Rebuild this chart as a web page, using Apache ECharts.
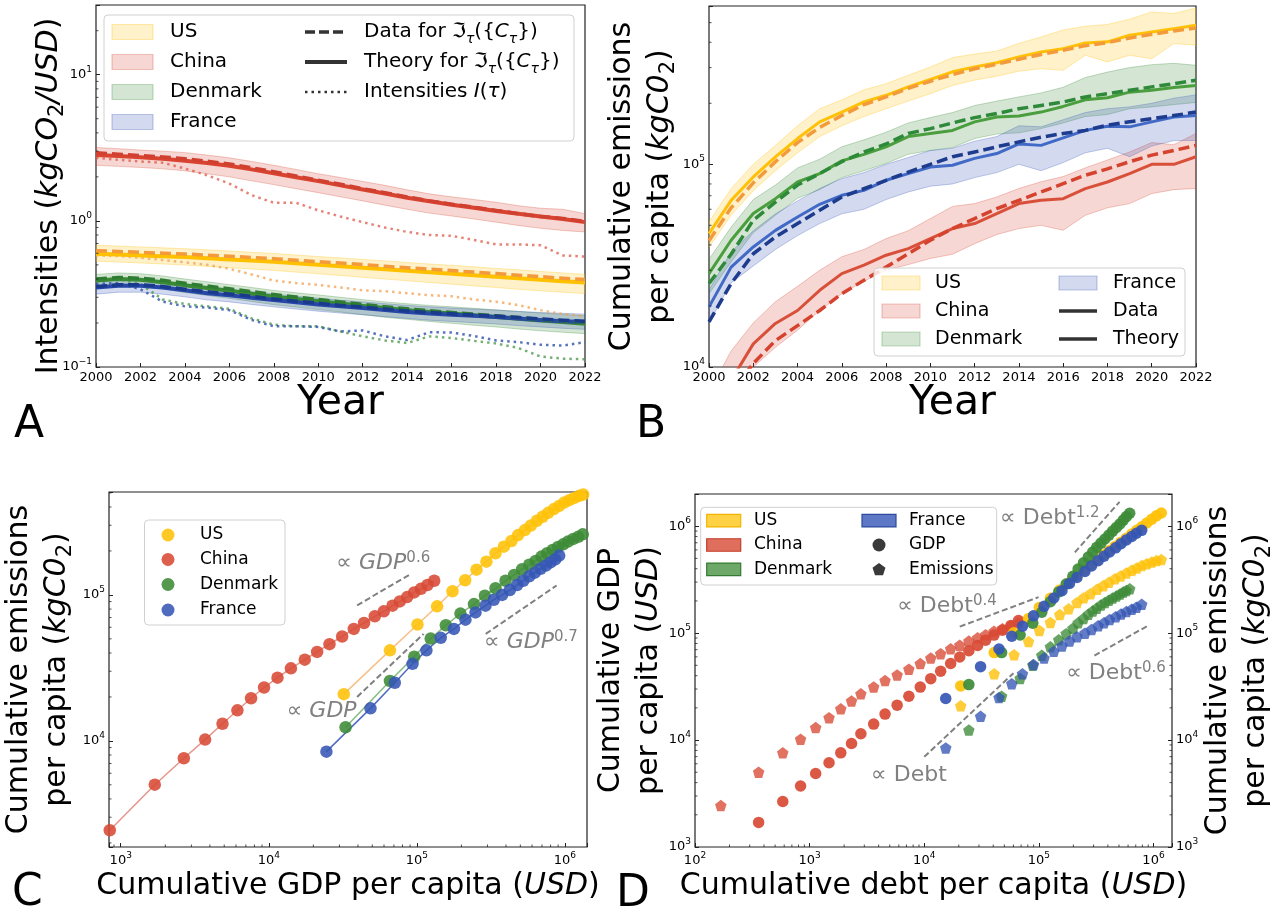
<!DOCTYPE html>
<html>
<head>
<meta charset="utf-8">
<title>Intensities, cumulative emissions, GDP and debt per capita</title>
<script src="https://cdn.jsdelivr.net/npm/echarts@6/dist/echarts.min.js"></script>
<style>
html, body { margin: 0; padding: 0; background: #fff; }
#chart { width: 1277px; height: 918px; }
</style>
</head>
<body>
<div id="chart"></div>
<script>
const FONT = 'DejaVu Sans';

const years = [2000, 2001, 2002, 2003, 2004, 2005, 2006, 2007, 2008, 2009, 2010, 2011, 2012, 2013, 2014, 2015, 2016, 2017, 2018, 2019, 2020, 2021, 2022];

// ---------- Panel A: intensities (kgCO2 / USD)
const aUSTheory    = [0.595, 0.588, 0.580, 0.572, 0.565, 0.555, 0.545, 0.535, 0.525, 0.512, 0.500, 0.490, 0.478, 0.466, 0.455, 0.445, 0.435, 0.425, 0.415, 0.405, 0.395, 0.386, 0.378];
const aUSData      = [0.625, 0.617, 0.609, 0.601, 0.593, 0.583, 0.572, 0.562, 0.551, 0.538, 0.525, 0.514, 0.502, 0.489, 0.478, 0.467, 0.457, 0.446, 0.436, 0.425, 0.415, 0.405, 0.397];
const aUSUpper     = [0.680, 0.672, 0.663, 0.654, 0.645, 0.634, 0.622, 0.610, 0.598, 0.584, 0.570, 0.558, 0.545, 0.532, 0.519, 0.507, 0.496, 0.485, 0.473, 0.462, 0.451, 0.440, 0.430];
const aUSLower     = [0.530, 0.523, 0.515, 0.507, 0.498, 0.488, 0.478, 0.468, 0.458, 0.446, 0.434, 0.423, 0.411, 0.400, 0.389, 0.379, 0.369, 0.359, 0.350, 0.340, 0.332, 0.325, 0.318];
const aUSIntensity = [0.580, 0.575, 0.560, 0.540, 0.520, 0.500, 0.470, 0.430, 0.390, 0.375, 0.365, 0.350, 0.335, 0.330, 0.320, 0.310, 0.305, 0.290, 0.280, 0.265, 0.245, 0.230, 0.222];

const aChinaTheory    = [2.82, 2.78, 2.72, 2.66, 2.58, 2.49, 2.38, 2.25, 2.12, 1.99, 1.87, 1.75, 1.64, 1.54, 1.44, 1.36, 1.29, 1.23, 1.17, 1.12, 1.07, 1.03, 0.98];
const aChinaData      = [2.92, 2.86, 2.80, 2.74, 2.66, 2.56, 2.45, 2.31, 2.17, 2.03, 1.90, 1.78, 1.66, 1.56, 1.46, 1.37, 1.30, 1.24, 1.18, 1.12, 1.07, 1.04, 0.99];
const aChinaUpper     = [3.18, 3.12, 3.05, 3.00, 2.93, 2.82, 2.70, 2.55, 2.40, 2.25, 2.10, 1.98, 1.86, 1.75, 1.63, 1.53, 1.46, 1.40, 1.34, 1.27, 1.22, 1.20, 1.12];
const aChinaLower     = [2.40, 2.36, 2.32, 2.27, 2.20, 2.10, 2.00, 1.88, 1.77, 1.66, 1.56, 1.46, 1.37, 1.28, 1.20, 1.13, 1.08, 1.03, 0.98, 0.93, 0.89, 0.86, 0.84];
const aChinaIntensity = [2.70, 2.62, 2.55, 2.50, 2.28, 2.05, 1.80, 1.50, 1.33, 1.33, 1.18, 1.07, 0.98, 0.90, 0.84, 0.80, 0.79, 0.74, 0.69, 0.69, 0.68, 0.58, 0.57];

const aDenmarkTheory    = [0.390, 0.400, 0.395, 0.380, 0.362, 0.347, 0.332, 0.317, 0.303, 0.292, 0.282, 0.272, 0.262, 0.253, 0.245, 0.238, 0.232, 0.226, 0.220, 0.214, 0.208, 0.203, 0.198];
const aDenmarkData      = [0.400, 0.410, 0.405, 0.392, 0.374, 0.358, 0.343, 0.328, 0.313, 0.301, 0.290, 0.279, 0.268, 0.258, 0.250, 0.243, 0.236, 0.230, 0.224, 0.218, 0.212, 0.207, 0.203];
const aDenmarkUpper     = [0.430, 0.440, 0.435, 0.420, 0.400, 0.383, 0.366, 0.350, 0.334, 0.322, 0.311, 0.300, 0.289, 0.279, 0.271, 0.264, 0.258, 0.252, 0.246, 0.240, 0.234, 0.229, 0.224];
const aDenmarkLower     = [0.350, 0.360, 0.355, 0.342, 0.323, 0.309, 0.295, 0.281, 0.267, 0.257, 0.247, 0.238, 0.228, 0.219, 0.212, 0.205, 0.199, 0.193, 0.188, 0.182, 0.177, 0.173, 0.169];
const aDenmarkIntensity = [0.400, 0.400, 0.370, 0.290, 0.270, 0.260, 0.250, 0.215, 0.195, 0.190, 0.190, 0.175, 0.162, 0.152, 0.146, 0.162, 0.158, 0.151, 0.145, 0.135, 0.118, 0.114, 0.113];

const aFranceTheory    = [0.350, 0.360, 0.360, 0.350, 0.335, 0.320, 0.310, 0.298, 0.287, 0.277, 0.268, 0.260, 0.253, 0.245, 0.238, 0.232, 0.228, 0.224, 0.220, 0.215, 0.210, 0.206, 0.203];
const aFranceData      = [0.355, 0.365, 0.366, 0.356, 0.341, 0.327, 0.316, 0.304, 0.292, 0.282, 0.273, 0.264, 0.257, 0.249, 0.242, 0.236, 0.231, 0.227, 0.223, 0.218, 0.213, 0.209, 0.206];
const aFranceUpper     = [0.385, 0.395, 0.395, 0.385, 0.368, 0.352, 0.341, 0.328, 0.316, 0.305, 0.295, 0.286, 0.279, 0.271, 0.264, 0.258, 0.253, 0.249, 0.245, 0.240, 0.236, 0.233, 0.230];
const aFranceLower     = [0.315, 0.325, 0.325, 0.315, 0.302, 0.288, 0.279, 0.268, 0.258, 0.249, 0.241, 0.234, 0.228, 0.221, 0.215, 0.209, 0.205, 0.201, 0.197, 0.192, 0.188, 0.184, 0.181];
const aFranceIntensity = [0.370, 0.375, 0.340, 0.280, 0.260, 0.255, 0.245, 0.210, 0.190, 0.190, 0.188, 0.175, 0.178, 0.162, 0.153, 0.173, 0.172, 0.163, 0.152, 0.148, 0.142, 0.140, 0.148];

// ---------- Panel B: cumulative emissions per capita (kgCO2)
const bUSData     = [45500, 66400, 86600, 108700, 134000, 162000, 181000, 203000, 219000, 241000, 262000, 286000, 302000, 317000, 339000, 358000, 372000, 397000, 402000, 433000, 450000, 467000, 485000];
const bUSTheory   = [42000, 61000, 81000, 103000, 128000, 152000, 174000, 197000, 215000, 237000, 257000, 277000, 296000, 312000, 330000, 348000, 365000, 385000, 398000, 420000, 438000, 455000, 470000];
const bUSUpper    = [52000, 76000, 100000, 124000, 155000, 188000, 208000, 233000, 250000, 275000, 302000, 336000, 350000, 362000, 395000, 425000, 460000, 480000, 490000, 520000, 565000, 555000, 590000];
const bUSLower    = [39000, 56000, 74000, 93000, 114000, 137000, 155000, 172000, 188000, 205000, 223000, 245000, 260000, 272000, 288000, 296000, 291000, 345000, 320000, 345000, 332000, 394000, 387000];

const bChinaData   = [5500, 8600, 13000, 16400, 19000, 23900, 28900, 31800, 35600, 38400, 43000, 48200, 51000, 57100, 64000, 66400, 67700, 75900, 81800, 90000, 100000, 100000, 109000];
const bChinaTheory = [5000, 7500, 10400, 13500, 16000, 19000, 23000, 26800, 31100, 36200, 42200, 48200, 54000, 60400, 66400, 73000, 80300, 88300, 95000, 103000, 111000, 117000, 124000];
const bChinaUpper  = [7500, 12000, 16500, 21000, 25000, 30000, 35000, 38000, 43000, 47000, 54000, 62000, 64000, 69000, 76000, 82000, 87000, 96000, 105000, 115000, 128000, 125000, 142000];
const bChinaLower  = [4000, 6500, 10000, 12500, 15200, 19000, 23000, 26500, 30000, 32000, 34300, 36000, 40600, 45000, 48200, 50000, 47300, 56000, 61000, 64000, 71700, 75000, 76000];

const bDenmarkData   = [28900, 42200, 57200, 67700, 81800, 90000, 104000, 112000, 122000, 137000, 142000, 147000, 162000, 171000, 173000, 181000, 193000, 208000, 213000, 227000, 232000, 239000, 245000];
const bDenmarkTheory = [25800, 36000, 53000, 65000, 79000, 90000, 103000, 115000, 126000, 142000, 150000, 160000, 170000, 178000, 188000, 195000, 203000, 215000, 223000, 232000, 241000, 250000, 260000];
const bDenmarkUpper  = [34000, 49000, 67000, 79000, 96000, 106000, 122000, 132000, 144000, 160000, 170000, 180000, 195000, 205000, 215000, 225000, 240000, 268000, 285000, 300000, 310000, 315000, 308000];
const bDenmarkLower  = [23000, 33000, 46000, 56000, 68000, 75000, 86000, 93000, 101000, 112000, 117000, 121000, 134000, 141000, 143000, 150000, 160000, 172000, 176000, 188000, 192000, 197000, 202000];

const bFranceData   = [19800, 31100, 39100, 47200, 55000, 63500, 70300, 74400, 83400, 90000, 97000, 99000, 107000, 113000, 126000, 124000, 135000, 147000, 154000, 153000, 162000, 171000, 174000];
const bFranceTheory = [16700, 25800, 36200, 43800, 51000, 59300, 69000, 75800, 83400, 91600, 100000, 109000, 115000, 122000, 129000, 136000, 142000, 147000, 156000, 162000, 168000, 174000, 181000];
const bFranceUpper  = [24000, 37000, 47000, 57000, 66000, 76000, 85000, 91000, 100000, 108000, 117000, 120000, 130000, 137000, 155000, 153000, 166000, 180000, 188000, 192000, 200000, 212000, 220000];
const bFranceLower  = [16500, 26000, 31500, 38000, 44500, 51000, 57000, 60000, 67000, 73000, 78000, 80000, 86000, 91000, 100000, 93000, 102000, 114000, 120000, 109000, 123000, 131000, 131000];

// ---------- Panel C: cumulative GDP (USD) vs cumulative emissions (kgCO2), per capita
const cUSGdp = [32100, 65800, 101000, 137000, 174000, 212000, 253000, 295000, 340000, 387000, 436000, 483000, 537000, 589000, 647000, 707000, 771000, 843000, 915000, 989000, 1070000, 1160000, 1250000, 1330000];
const cUSEmi = [20900, 41700, 62700, 83500, 106000, 126000, 149000, 169000, 193000, 214000, 234000, 257000, 278000, 299000, 322000, 343000, 365000, 387000, 407000, 429000, 446000, 462000, 477000, 487000];

const cChinaGdp = [843, 1698, 2667, 3715, 4866, 6137, 7590, 9290, 11450, 14100, 17500, 21200, 25700, 31300, 37500, 44000, 52000, 59800, 68500, 76700, 86000, 95900, 106500, 118000, 131000];
const cChinaEmi = [2443, 5010, 7600, 10200, 13100, 16200, 19600, 23200, 27100, 31400, 36000, 40700, 46000, 51900, 58500, 64200, 71400, 77200, 84400, 90300, 96600, 104000, 110000, 117000, 125000];

const cDenmarkGdp = [33000, 65800, 96000, 124000, 157000, 197000, 243000, 288000, 340000, 397000, 454000, 514000, 574000, 634000, 695000, 759000, 826000, 900000, 974000, 1050000, 1140000, 1230000, 1320000];
const cDenmarkEmi = [12400, 25700, 37700, 50200, 62000, 74500, 86500, 98800, 111000, 125000, 137000, 150000, 161000, 171000, 183000, 193000, 203000, 213000, 222000, 232000, 242000, 250000, 260000];

const cFranceGdp = [24500, 48600, 71000, 93500, 116000, 145000, 178000, 213000, 249000, 291000, 331000, 377000, 425000, 476000, 523000, 574000, 627000, 685000, 744000, 800000, 860000, 915000];
const cFranceEmi = [8440, 16700, 25000, 33700, 41700, 50800, 58500, 67700, 75900, 84400, 92700, 100000, 108000, 117000, 125000, 134000, 142000, 151000, 159000, 167000, 175000, 186000];

// ---------- Panel D: cumulative debt per capita (USD), paired with the GDP / emissions above
const dUSDebt      = [20800, 40800, 60800, 81300, 101000, 126000, 152000, 182000, 215000, 246000, 282000, 322000, 364000, 408000, 461000, 517000, 579000, 646000, 714000, 789000, 873000, 966000, 1060000, 1170000];
const dChinaDebt   = [168, 359, 583, 834, 1129, 1477, 1870, 2320, 2800, 3620, 4550, 5800, 7340, 9230, 11400, 13900, 17000, 20400, 24500, 29200, 34300, 40600, 48100, 57100, 66400];
const dDenmarkDebt = [24500, 47300, 68600, 88500, 106000, 126000, 149000, 173000, 198000, 220000, 245000, 270000, 295000, 320000, 348000, 377000, 408000, 440000, 475000, 510000, 545000, 580000, 620000];
const dFranceDebt  = [15400, 31000, 44900, 58000, 71900, 89800, 111000, 135000, 159000, 185000, 215000, 252000, 288000, 329000, 370000, 414000, 468000, 521000, 580000, 646000, 710000, 789000];

// ---------- Power-law guides [start, end] and their captions (anchor = left edge, text middle)
const cGuideGdp06 = [[39500, 84800], [88500, 137000]];
const cGuideGdp10 = [[39500, 20000], [111000, 54100]];
const cGuideGdp07 = [[292000, 54100], [879000, 116000]];
const dGuideDebt12 = [[206000, 569000], [506000, 1690000]];
const dGuideDebt04 = [[20400, 115000], [99300, 217000]];
const dGuideDebt10 = [[10000, 6970], [60000, 42200]];
const dGuideDebt06 = [[305000, 61700], [903000, 118000]];

const cCaptions = [
  { at: [28600, 165000], text: '\u221D {i|GDP}{p|0.6}' },
  { at: [13200, 15900], text: '\u221D {i|GDP}' },
  { at: [284000, 47200], text: '\u221D {i|GDP}{p|0.7}' }
];
const dCaptions = [
  { at: [45800, 1180000], text: '\u221D Debt{p|1.2}' },
  { at: [5800, 177000], text: '\u221D Debt{p|0.4}' },
  { at: [3430, 4730], text: '\u221D Debt' },
  { at: [173000, 41800], text: '\u221D Debt{p|0.6}' }
];

// ---------- Layout
const GRIDS = [
  { left: 96, top: 5, width: 489, height: 362 },
  { left: 709, top: 6, width: 487, height: 361 },
  { left: 109, top: 492, width: 478, height: 355 },
  { left: 695, top: 494, width: 477, height: 353 }
];
const RANGE = {
  aY: [0.1, 30], bY: [1e4, 6.04e5],
  cX: [833, 1.41e6], cY: [1875, 5.07e5],
  dX: [100, 1.45e6], dY: [1000, 2.0e6]
};

const COLORS = {
  US: '#FFC107', China: '#D84A35', Denmark: '#3D8B37', France: '#3556B5'
};
const BAND = {
  US: ['rgba(255,193,7,0.22)', 'rgba(255,193,7,0.30)'],
  China: ['rgba(216,74,53,0.22)', 'rgba(216,74,53,0.30)'],
  Denmark: ['rgba(61,139,55,0.22)', 'rgba(61,139,55,0.30)'],
  France: ['rgba(53,86,181,0.22)', 'rgba(53,86,181,0.30)']
};

// ---------- Helpers
const pairs = (xs, ys) => xs.map((x, i) => [x, ys[i]]);

function lineSeries(xi, yi, xs, ys, color, width, type, z) {
  return {
    type: 'line', xAxisIndex: xi, yAxisIndex: yi, data: pairs(xs, ys),
    symbol: 'none', showSymbol: false, silent: true, clip: true, z: z, animation: false,
    lineStyle: { color: color, width: width, type: type, cap: 'butt', join: 'round' }
  };
}
function bandSeries(xi, yi, xs, lo, hi, colors) {
  return {
    type: 'custom', xAxisIndex: xi, yAxisIndex: yi, clip: true, silent: true, z: 1, animation: false,
    data: [[xs[0], hi[0]]], encode: { x: 0, y: 1 },
    renderItem: function (params, api) {
      const pts = xs.map((x, i) => api.coord([x, hi[i]]));
      for (let i = xs.length - 1; i >= 0; i--) pts.push(api.coord([xs[i], lo[i]]));
      return { type: 'polygon', shape: { points: pts }, style: { fill: colors[0], stroke: colors[1], lineWidth: 1 } };
    }
  };
}
function pathSeries(xs, ys, dot, link) {
  return {
    type: 'line', xAxisIndex: 2, yAxisIndex: 2, data: pairs(xs, ys),
    symbol: 'circle', symbolSize: 12.5, showSymbol: true, showAllSymbol: true, silent: true, z: 3, animation: false,
    itemStyle: { color: dot, opacity: 0.88 },
    lineStyle: { color: link, width: 1.5 }
  };
}
const PENTAGON = 'path://M50,0 L97.55,34.55 L79.39,90.45 L20.61,90.45 L2.45,34.55 Z';
function dotSeries(yi, xs, ys, color, symbol, opacity) {
  return {
    type: 'scatter', xAxisIndex: 3, yAxisIndex: yi, data: pairs(xs, ys), clip: true,
    symbol: symbol, symbolSize: 11.5, silent: true, z: 3, animation: false,
    itemStyle: { color: color, opacity: opacity }
  };
}
function guideSeries(xi, yi, seg) {
  return {
    type: 'line', xAxisIndex: xi, yAxisIndex: yi, data: seg, symbol: 'none', silent: true, z: 2, animation: false,
    lineStyle: { color: '#808080', width: 2, type: [6, 3] }
  };
}

const tickRich = {
  b: { fontSize: 13, fontFamily: FONT, color: '#000', lineHeight: 20, verticalAlign: 'middle' },
  s: { fontSize: 9, fontFamily: FONT, color: '#000', lineHeight: 10, verticalAlign: 'top' }
};
function powLabel(v) {
  const e = Math.round(Math.log10(v));
  if (Math.abs(v / Math.pow(10, e) - 1) > 1e-6) return '';
  return '{b|10}{s|' + (e < 0 ? '\u2212' + (-e) : e) + '}';
}
const nameRich = {
  i: { fontSize: 30, fontFamily: FONT, fontStyle: 'italic', color: '#000', lineHeight: 38, verticalAlign: 'middle' },
  s: { fontSize: 21, fontFamily: FONT, color: '#000', lineHeight: 22, verticalAlign: 'bottom' }
};
function axis(extra) {
  return Object.assign({
    axisLine: { show: false },
    axisTick: { show: true, inside: true, length: 4, lineStyle: { color: '#222', width: 1 } },
    splitLine: { show: false },
    minorTick: { show: false },
    nameLocation: 'middle',
    nameMoveOverlap: false
  }, extra);
}
function yearAxis(grid) {
  return axis({
    gridIndex: grid, type: 'value', min: 2000, max: 2022, interval: 2,
    axisLabel: { formatter: v => String(v), fontSize: 13, fontFamily: FONT, color: '#000', margin: 4 },
    name: 'Year', nameGap: 14,
    nameTextStyle: { fontSize: 41, fontFamily: FONT, color: '#000', lineHeight: 44 }
  });
}
function logAxis(grid, range, extra) {
  return axis(Object.assign({
    gridIndex: grid, type: 'log', logBase: 10, min: range[0], max: range[1],
    axisLabel: { formatter: powLabel, rich: tickRich, margin: 4, showMinLabel: true, showMaxLabel: true }
  }, extra));
}
function nameStyle(extra) {
  return Object.assign({ fontSize: 30, fontFamily: FONT, color: '#000', lineHeight: 38, rich: nameRich }, extra || {});
}

// ---------- Series
const series = [];
// Panel A
series.push(bandSeries(0, 0, years, aUSLower, aUSUpper, BAND.US));
series.push(bandSeries(0, 0, years, aChinaLower, aChinaUpper, BAND.China));
series.push(bandSeries(0, 0, years, aDenmarkLower, aDenmarkUpper, BAND.Denmark));
series.push(bandSeries(0, 0, years, aFranceLower, aFranceUpper, BAND.France));
series.push(lineSeries(0, 0, years, aUSIntensity, 'rgba(243,160,80,0.75)', 2.5, [2.5, 4], 2));
series.push(lineSeries(0, 0, years, aChinaIntensity, 'rgba(222,90,72,0.75)', 2.5, [2.5, 4], 2));
series.push(lineSeries(0, 0, years, aDenmarkIntensity, 'rgba(70,150,70,0.75)', 2.5, [2.5, 4], 2));
series.push(lineSeries(0, 0, years, aFranceIntensity, 'rgba(45,80,170,0.8)', 2.5, [2.5, 4], 2));
series.push(lineSeries(0, 0, years, aUSTheory, '#FFC000', 4, 'solid', 3));
series.push(lineSeries(0, 0, years, aChinaTheory, '#D94430', 4, 'solid', 3));
series.push(lineSeries(0, 0, years, aDenmarkTheory, '#3A8A35', 4, 'solid', 3));
series.push(lineSeries(0, 0, years, aFranceTheory, '#2748A8', 4, 'solid', 3));
series.push(lineSeries(0, 0, years, aUSData, '#F39A3C', 3.5, [11, 5], 4));
series.push(lineSeries(0, 0, years, aChinaData, '#D04030', 3.5, [11, 5], 4));
series.push(lineSeries(0, 0, years, aDenmarkData, '#2E7D32', 3.5, [11, 5], 4));
series.push(lineSeries(0, 0, years, aFranceData, '#1A3A8C', 3.5, [11, 5], 4));

// Panel B
series.push(bandSeries(1, 1, years, bUSLower, bUSUpper, BAND.US));
series.push(bandSeries(1, 1, years, bChinaLower, bChinaUpper, BAND.China));
series.push(bandSeries(1, 1, years, bDenmarkLower, bDenmarkUpper, BAND.Denmark));
series.push(bandSeries(1, 1, years, bFranceLower, bFranceUpper, BAND.France));
series.push(lineSeries(1, 1, years, bUSData, '#FFC107', 3, 'solid', 3));
series.push(lineSeries(1, 1, years, bChinaData, '#D9503A', 3, 'solid', 3));
series.push(lineSeries(1, 1, years, bDenmarkData, '#4A9E3E', 3, 'solid', 3));
series.push(lineSeries(1, 1, years, bFranceData, '#4169C6', 3, 'solid', 3));
series.push(lineSeries(1, 1, years, bUSTheory, '#F39A3C', 3.5, [11, 5], 4));
series.push(lineSeries(1, 1, years, bChinaTheory, '#D5432F', 3.5, [11, 5], 4));
series.push(lineSeries(1, 1, years, bDenmarkTheory, '#2E8A3A', 3.5, [11, 5], 4));
series.push(lineSeries(1, 1, years, bFranceTheory, '#1E3C8E', 3.5, [11, 5], 4));

// Panel C
series.push(guideSeries(2, 2, cGuideGdp06));
series.push(guideSeries(2, 2, cGuideGdp10));
series.push(guideSeries(2, 2, cGuideGdp07));
series.push(pathSeries(cChinaGdp, cChinaEmi, COLORS.China, 'rgba(226,130,116,0.85)'));
series.push(pathSeries(cUSGdp, cUSEmi, COLORS.US, 'rgba(246,190,130,0.95)'));
series.push(pathSeries(cDenmarkGdp, cDenmarkEmi, COLORS.Denmark, 'rgba(120,180,118,0.9)'));
series.push(pathSeries(cFranceGdp, cFranceEmi, COLORS.France, 'rgba(60,92,185,0.9)'));

// Panel D
series.push(guideSeries(3, 3, dGuideDebt12));
series.push(guideSeries(3, 3, dGuideDebt04));
series.push(guideSeries(3, 3, dGuideDebt10));
series.push(guideSeries(3, 3, dGuideDebt06));
series.push(dotSeries(4, dChinaDebt, cChinaEmi, COLORS.China, PENTAGON, 0.78));
series.push(dotSeries(3, dChinaDebt, cChinaGdp, COLORS.China, 'circle', 0.92));
series.push(dotSeries(4, dUSDebt, cUSEmi, COLORS.US, PENTAGON, 0.8));
series.push(dotSeries(3, dUSDebt, cUSGdp, COLORS.US, 'circle', 0.92));
series.push(dotSeries(4, dDenmarkDebt, cDenmarkEmi, COLORS.Denmark, PENTAGON, 0.78));
series.push(dotSeries(3, dDenmarkDebt, cDenmarkGdp, COLORS.Denmark, 'circle', 0.92));
series.push(dotSeries(4, dFranceDebt, cFranceEmi, COLORS.France, PENTAGON, 0.78));
series.push(dotSeries(3, dFranceDebt, cFranceGdp, COLORS.France, 'circle', 0.92));

const gridOpts = GRIDS.map(g => Object.assign({
  show: true, borderColor: '#222', borderWidth: 1.2, backgroundColor: 'transparent',
  containLabel: false, outerBoundsMode: 'none'
}, g));

const option = {
  animation: false,
  backgroundColor: '#fff',
  textStyle: { fontFamily: FONT },
  grid: gridOpts,
  xAxis: [
    yearAxis(0),
    yearAxis(1),
    logAxis(2, RANGE.cX, {
      name: 'Cumulative GDP per capita ({i|USD})', nameGap: 20, nameTextStyle: nameStyle()
    }),
    logAxis(3, RANGE.dX, {
      name: 'Cumulative debt per capita ({i|USD})', nameGap: 20, nameTextStyle: nameStyle()
    })
  ],
  yAxis: [
    logAxis(0, RANGE.aY, {
      name: 'Intensities ({i|kgCO}{s|2}{i|/USD})', nameGap: 28, nameRotate: 90,
      nameTextStyle: nameStyle({ padding: [0, 20, 0, 0] })
    }),
    logAxis(1, RANGE.bY, {
      name: 'Cumulative emissions\nper capita ({i|kgC0}{s|2})', nameGap: 30, nameRotate: 90,
      nameTextStyle: nameStyle()
    }),
    logAxis(2, RANGE.cY, {
      name: 'Cumulative emissions\nper capita ({i|kgC0}{s|2})', nameGap: 33, nameRotate: 90,
      nameTextStyle: nameStyle()
    }),
    logAxis(3, RANGE.dY, {
      position: 'left',
      name: 'Cumulative GDP\nper capita ({i|USD})', nameGap: 27, nameRotate: 90,
      nameTextStyle: nameStyle()
    }),
    logAxis(3, RANGE.dY, {
      position: 'right',
      name: 'Cumulative emissions\nper capita ({i|kgC0}{s|2})', nameGap: 27, nameRotate: 90,
      nameTextStyle: nameStyle()
    })
  ],
  series: series
};

const chart = echarts.init(document.getElementById('chart'), null, { width: 1277, height: 918 });
chart.setOption(option);

// ---------- Overlay: minor ticks, legends, captions, panel letters
const gfx = [];

function minorValues(lo, hi) {
  const out = [];
  for (let k = Math.floor(Math.log10(lo)); k <= Math.ceil(Math.log10(hi)); k++) {
    for (let m = 2; m <= 9; m++) {
      const v = m * Math.pow(10, k);
      if (v > lo && v < hi) out.push(v);
    }
  }
  return out;
}
function tickLine(x1, y1, x2, y2) {
  gfx.push({ type: 'line', z: 60, silent: true, shape: { x1: x1, y1: y1, x2: x2, y2: y2 }, style: { stroke: '#222', lineWidth: 0.8 } });
}
function minorX(axisIndex, g, range) {
  const yb = g.top + g.height;
  minorValues(range[0], range[1]).forEach(v => {
    const x = chart.convertToPixel({ xAxisIndex: axisIndex }, v);
    tickLine(x, yb, x, yb - 2.5);
  });
}
function minorY(axisIndex, g, range, right) {
  const xe = right ? g.left + g.width : g.left;
  const dir = right ? -1 : 1;
  minorValues(range[0], range[1]).forEach(v => {
    const y = chart.convertToPixel({ yAxisIndex: axisIndex }, v);
    tickLine(xe, y, xe + dir * 2.5, y);
  });
}
minorY(0, GRIDS[0], RANGE.aY, false);
minorY(1, GRIDS[1], RANGE.bY, false);
minorX(2, GRIDS[2], RANGE.cX);
minorY(2, GRIDS[2], RANGE.cY, false);
minorX(3, GRIDS[3], RANGE.dX);
minorY(3, GRIDS[3], RANGE.dY, false);
minorY(4, GRIDS[3], RANGE.dY, true);

function box(x, y, w, h) {
  gfx.push({ type: 'rect', z: 100, silent: true, shape: { x: x, y: y, width: w, height: h, r: 4 },
    style: { fill: 'rgba(255,255,255,0.82)', stroke: '#d0d0d0', lineWidth: 1 } });
}
function patch(x, yc, w, h, fill, stroke) {
  gfx.push({ type: 'rect', z: 101, silent: true, shape: { x: x, y: yc - h / 2, width: w, height: h },
    style: { fill: fill, stroke: stroke, lineWidth: 1.2 } });
}
function sample(x1, x2, yc, width, dash) {
  gfx.push({ type: 'line', z: 101, silent: true, shape: { x1: x1, y1: yc, x2: x2, y2: yc },
    style: { stroke: '#333', lineWidth: width, lineDash: dash || null, lineCap: 'butt' } });
}
function text(x, y, str, size, opts) {
  const style = Object.assign({ text: str, fontSize: size, fontFamily: FONT, fill: '#000',
    align: 'left', verticalAlign: 'middle' }, opts || {});
  gfx.push({ type: 'text', z: 102, silent: true, x: x, y: y, style: style });
}

// Legend A
const legRichA = {
  i: { fontSize: 20, fontFamily: FONT, fontStyle: 'italic', fill: '#000', lineHeight: 28, verticalAlign: 'middle' },
  s: { fontSize: 14, fontFamily: FONT, fontStyle: 'italic', fill: '#000', lineHeight: 18, verticalAlign: 'bottom' }
};
box(104, 15, 470, 126);
const rowsA = [32, 62, 92, 122];
[['US', BAND.US], ['China', BAND.China], ['Denmark', BAND.Denmark], ['France', BAND.France]].forEach((e, i) => {
  patch(112, rowsA[i], 41, 15, e[1][0], e[1][1]);
  text(170, rowsA[i], e[0], 20);
});
sample(305, 347, rowsA[0], 3.5, [10, 4]);
sample(305, 347, rowsA[1], 4);
sample(305, 347, rowsA[2], 2.5, [2.5, 4]);
text(364, rowsA[0], 'Data for \u2111{s|\u03C4}({{i|C}{s|\u03C4}})', 20, { rich: legRichA, lineHeight: 28 });
text(364, rowsA[1], 'Theory for \u2111{s|\u03C4}({{i|C}{s|\u03C4}})', 20, { rich: legRichA, lineHeight: 28 });
text(364, rowsA[2], 'Intensities {i|I}({i|\u03C4})', 20, { rich: legRichA, lineHeight: 28 });

// Legend B
box(874, 268, 311, 88);
const rowsB = [283, 311, 339];
[['US', BAND.US], ['China', BAND.China], ['Denmark', BAND.Denmark]].forEach((e, i) => {
  patch(882, rowsB[i], 38, 14, e[1][0], e[1][1]);
  text(935, rowsB[i], e[0], 19);
});
patch(1059, rowsB[0], 38, 14, BAND.France[0], BAND.France[1]);
text(1113, rowsB[0], 'France', 19);
sample(1059, 1097, rowsB[1], 3.5);
text(1113, rowsB[1], 'Data', 19);
sample(1059, 1097, rowsB[2], 3.5);
text(1113, rowsB[2], 'Theory', 19);

// Legend C
box(144.5, 520, 140.5, 105);
const rowsC = [535, 559.5, 584.5, 610];
[['US', COLORS.US], ['China', COLORS.China], ['Denmark', COLORS.Denmark], ['France', COLORS.France]].forEach((e, i) => {
  gfx.push({ type: 'circle', z: 101, silent: true, shape: { cx: 168, cy: rowsC[i], r: 6.5 }, style: { fill: e[1], opacity: 0.88 } });
  text(200, rowsC[i], e[0], 17);
});

// Legend D
box(700.7, 507.3, 296, 77.7);
const rowsD = [520.7, 545, 569.3];
[['US', 'rgba(255,193,7,0.75)', '#F2B400'], ['China', 'rgba(216,74,53,0.8)', '#C23D2A'], ['Denmark', 'rgba(61,139,55,0.75)', '#347A30']].forEach((e, i) => {
  patch(706.7, rowsD[i], 34, 12.5, e[1], e[2]);
  text(754, rowsD[i], e[0], 17);
});
patch(879 - 17, rowsD[0], 34, 12.5, 'rgba(53,86,181,0.8)', '#2C4AA0');
text(909, rowsD[0], 'France', 17);
gfx.push({ type: 'circle', z: 101, silent: true, shape: { cx: 879, cy: rowsD[1], r: 6.5 }, style: { fill: '#3a3a3a' } });
text(909, rowsD[1], 'GDP', 17);
(function () {
  const cx = 879, cy = rowsD[2] + 0.5, r = 6.8, pts = [];
  for (let k = 0; k < 5; k++) {
    const a = -Math.PI / 2 + k * 2 * Math.PI / 5;
    pts.push([cx + r * Math.cos(a), cy + r * Math.sin(a)]);
  }
  gfx.push({ type: 'polygon', z: 101, silent: true, shape: { points: pts }, style: { fill: '#3a3a3a' } });
})();
text(909, rowsD[2], 'Emissions', 17);

// The France patch in legend D sits in the second column, left of its label
gfx.forEach(el => {
  if (el.type === 'rect' && el.shape.x === 879 - 17) el.shape.x = 862;
});

// Power-law captions
const capRich = {
  i: { fontSize: 22, fontFamily: FONT, fontStyle: 'italic', fill: '#808080', lineHeight: 26, verticalAlign: 'middle' },
  p: { fontSize: 15, fontFamily: FONT, fill: '#808080', lineHeight: 14, verticalAlign: 'top' }
};
cCaptions.forEach(c => {
  const p = chart.convertToPixel({ gridIndex: 2 }, c.at);
  text(p[0], p[1], c.text, 22, { fill: '#808080', rich: capRich, lineHeight: 26 });
});
dCaptions.forEach(c => {
  const p = chart.convertToPixel({ gridIndex: 3 }, c.at);
  text(p[0], p[1], c.text, 22, { fill: '#808080', rich: capRich, lineHeight: 26 });
});

// Panel letters
text(14, 426, 'A', 44);
text(636, 426, 'B', 44);
text(12, 894, 'C', 44);
text(616, 895, 'D', 44);

chart.setOption({ graphic: { elements: gfx } });
</script>
</body>
</html>
